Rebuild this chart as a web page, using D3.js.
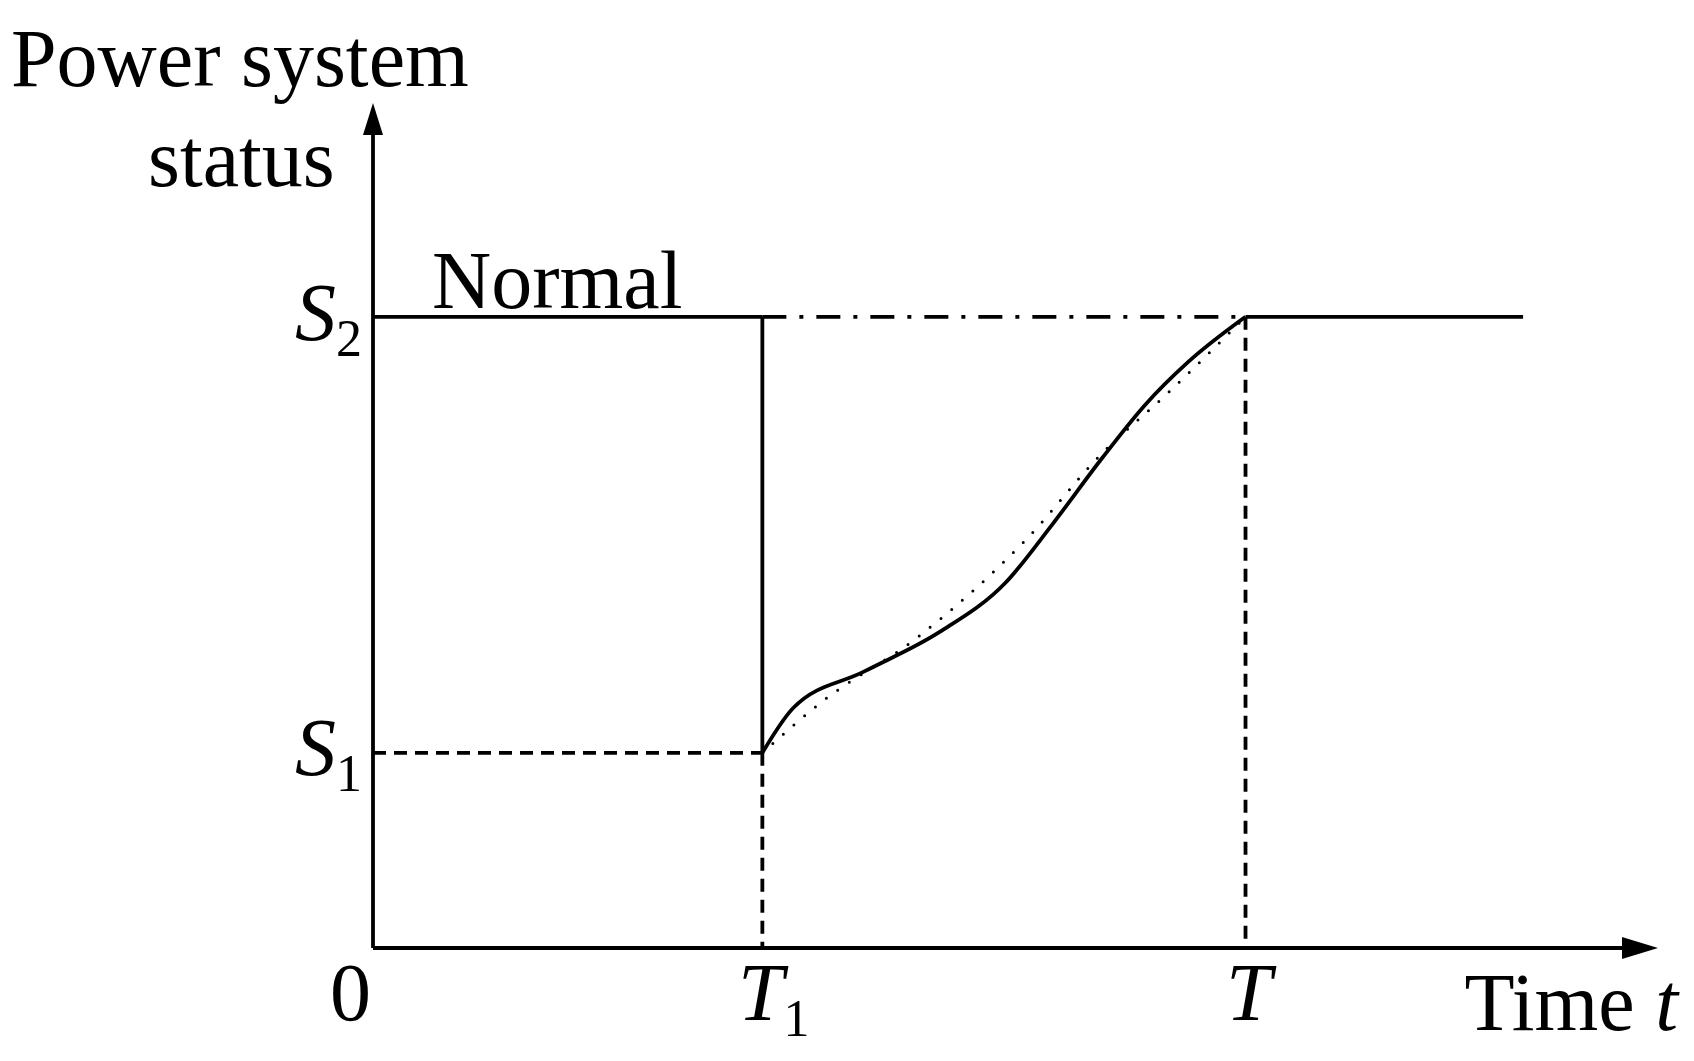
<!DOCTYPE html><html><head><meta charset="utf-8"><script src="https://cdn.jsdelivr.net/npm/d3@7"></script>
<style>body{margin:0;background:#fff}text{font-family:"Liberation Serif","Times New Roman",serif;fill:#000}</style></head><body><svg width="1694" height="1061"></svg><script>
const S1=23.1,S2=74.7,T1=30.3,T=67.9,TEND=89.5;
const solidT=[30.3,32.7,38.2,44.1,49.2,52.9,56.7,60.1,63.4,67.9];
const solidV=[23.1,28.4,32.7,37.4,43.2,50.2,57.9,64.3,69.3,74.7];
const dotT=[30.3,34.9,42.4,50.8,56.7,61.8,67.9];
const dotV=[23.1,29.1,36.8,48.3,58.5,65.6,74.7];
const svg=d3.select("svg");
const x=d3.scaleLinear().domain([0,100]).range([373,1658]);
const y=d3.scaleLinear().domain([0,100]).range([948,103]);
const sw=3.8;
function ln(a,b,c,d,dash){svg.append("line").attr("x1",x(a)).attr("y1",y(b)).attr("x2",x(c)).attr("y2",y(d)).attr("stroke","#000").attr("stroke-width",sw).attr("stroke-dasharray",dash||null);}
ln(0,0,0,98);ln(0,0,98,0);
svg.append("path").attr("d",`M${x(0)},${y(100)} l-10,32 l20,0 z`);
svg.append("path").attr("d",`M${x(100)},${y(0)} l-36,-11 l0,22 z`);
ln(0,S2,T1,S2);ln(T,S2,TEND,S2);ln(T1,S2,T1,S1);
ln(T1,S2,T,S2,"24,13,4,13");
ln(0,S1,T1,S1,"13,8");ln(T1,S1,T1,0,"13,8");ln(T,S2,T,0,"13,8");
const line=d3.line().x(d=>x(d[0])).y(d=>y(d[1])).curve(d3.curveMonotoneX);
svg.append("path").attr("d",line(solidT.map((t,i)=>[t,solidV[i]]))).attr("fill","none").attr("stroke","#000").attr("stroke-width",sw);
svg.append("path").attr("d",line(dotT.map((t,i)=>[t,dotV[i]]))).attr("fill","none").attr("stroke","#000").attr("stroke-width",3).attr("stroke-dasharray","0,14").attr("stroke-linecap","round");
const fs=82;
function tx(s,xx,yy){return svg.append("text").attr("x",xx).attr("y",yy).attr("font-size",fs).text(s);}
tx("Power system",11,86);tx("status",148,186);tx("Normal",432,308);
function lab(main,sub,xx,yy){const t=svg.append("text").attr("x",xx).attr("y",yy).attr("font-size",fs);t.append("tspan").attr("font-style","italic").text(main);t.append("tspan").attr("font-size",52).attr("dy",16).text(sub);}
lab("S","2",295,340);lab("S","1",295,775);lab("T","1",738,1020);
svg.append("text").attr("x",1226).attr("y",1020).attr("font-size",fs).attr("font-style","italic").text("T");
tx("0",330,1020);
const tt=svg.append("text").attr("x",1678).attr("y",1030).attr("font-size",fs).attr("text-anchor","end");tt.append("tspan").text("Time ");tt.append("tspan").attr("font-style","italic").text("t");
</script></body></html>
